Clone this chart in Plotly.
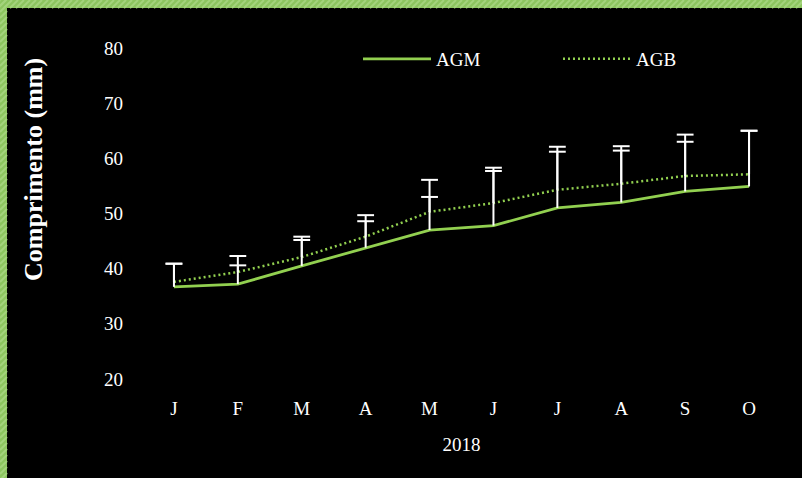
import plotly.graph_objects as go

# Monthly growth, 2018
months = ["J", "F", "M", "A", "M", "J", "J", "A", "S", "O"]
year_label = "2018"

agm = [36.7, 37.2, 40.5, 43.8, 47.0, 47.8, 51.0, 52.0, 54.0, 54.9]
agb = [37.6, 39.4, 42.1, 45.8, 50.3, 51.9, 54.3, 55.4, 56.8, 57.1]

# upward error (standard deviation) for each series
agm_err = [4.2, 5.1, 5.3, 5.9, 9.1, 10.5, 11.1, 10.2, 10.3, 10.1]
agb_err = [3.3, 1.2, 3.1, 2.8, 2.7, 5.8, 6.9, 6.0, 6.2, 7.9]

y_ticks = [20, 30, 40, 50, 60, 70, 80]

x = list(range(len(months)))

GREEN = "#92D050"
FONT = "Liberation Serif"

W, H = 802, 478
L, R, T, B = 142, 21, 48, 99
PW, PH = W - L - R, H - T - B


def px_x(p):
    return (p - L) / PW


def px_y(p):
    return (H - B - p) / PH


fig = go.Figure()

fig.add_trace(go.Scatter(
    x=x, y=agm, name="AGM", mode="lines",
    line=dict(color=GREEN, width=2.8),
))
fig.add_trace(go.Scatter(
    x=x, y=agb, name="AGB", mode="lines",
    line=dict(color=GREEN, width=2.5, dash="2px,3px"),
))

# upward-only error bars: a stem from each point and a cap at its top
for vals, err in ((agm, agm_err), (agb, agb_err)):
    sx, sy = [], []
    for i, (v, e) in enumerate(zip(vals, err)):
        sx += [i, i, None]
        sy += [v, v + e, None]
    fig.add_trace(go.Scatter(
        x=sx, y=sy, mode="lines", showlegend=False, hoverinfo="skip",
        line=dict(color="white", width=2),
    ))
    fig.add_trace(go.Scatter(
        x=x, y=[v + e for v, e in zip(vals, err)], mode="markers",
        showlegend=False, hoverinfo="skip",
        marker=dict(symbol="line-ew", size=12,
                    line=dict(color="white", width=2)),
    ))

# hatched green frame along the top and left edges
FRAME_TOP, FRAME_LEFT = 8, 7
shapes = [
    dict(type="rect", xref="paper", yref="paper", layer="below",
         x0=px_x(0), x1=px_x(W), y0=px_y(FRAME_TOP), y1=px_y(0),
         fillcolor="#8cc55f", line=dict(width=0)),
    dict(type="rect", xref="paper", yref="paper", layer="below",
         x0=px_x(0), x1=px_x(FRAME_LEFT), y0=px_y(H), y1=px_y(0),
         fillcolor="#8cc55f", line=dict(width=0)),
]
STRIPE = dict(color="#a3d47c", width=2)
for a in range(-FRAME_TOP, W, 6):
    shapes.append(dict(
        type="line", xref="paper", yref="paper", layer="below",
        x0=px_x(a), y0=px_y(FRAME_TOP), x1=px_x(a + FRAME_TOP), y1=px_y(0),
        line=STRIPE,
    ))
for b in range(0, H + FRAME_LEFT, 6):
    shapes.append(dict(
        type="line", xref="paper", yref="paper", layer="below",
        x0=px_x(0), y0=px_y(b), x1=px_x(FRAME_LEFT), y1=px_y(b - FRAME_LEFT),
        line=STRIPE,
    ))

fig.update_layout(
    width=W, height=H,
    margin=dict(l=L, r=R, t=T, b=B),
    paper_bgcolor="black",
    plot_bgcolor="rgba(0,0,0,0)",
    font=dict(family=FONT, color="white", size=18),
    shapes=shapes,
    showlegend=True,
    legend=dict(
        orientation="h", x=px_x(358), xanchor="left",
        y=px_y(59), yanchor="middle",
        bgcolor="rgba(0,0,0,0)", itemwidth=68,
        entrywidth=117, entrywidthmode="pixels",
        font=dict(family=FONT, size=19, color="white"),
    ),
    xaxis=dict(
        range=[-0.5, len(months) - 0.5],
        tickmode="array", tickvals=x, ticktext=months,
        showgrid=False, zeroline=False, showline=False,
        ticks="", ticklabelstandoff=16,
        tickfont=dict(family=FONT, size=19, color="white"),
        title=dict(text=year_label, standoff=19,
                   font=dict(family=FONT, size=19, color="white")),
    ),
    yaxis=dict(
        range=[20, 80], tickmode="array", tickvals=y_ticks,
        showgrid=False, zeroline=False, showline=False,
        ticks="", ticklabelstandoff=18,
        tickfont=dict(family=FONT, size=19, color="white"),
    ),
    annotations=[dict(
        text="<b>Comprimento (mm)</b>", textangle=-90,
        xref="paper", yref="paper", x=px_x(33), y=px_y(170),
        xanchor="center", yanchor="middle", showarrow=False,
        font=dict(family=FONT, size=26, color="white"),
    )],
)

fig.write_html("out.html")
